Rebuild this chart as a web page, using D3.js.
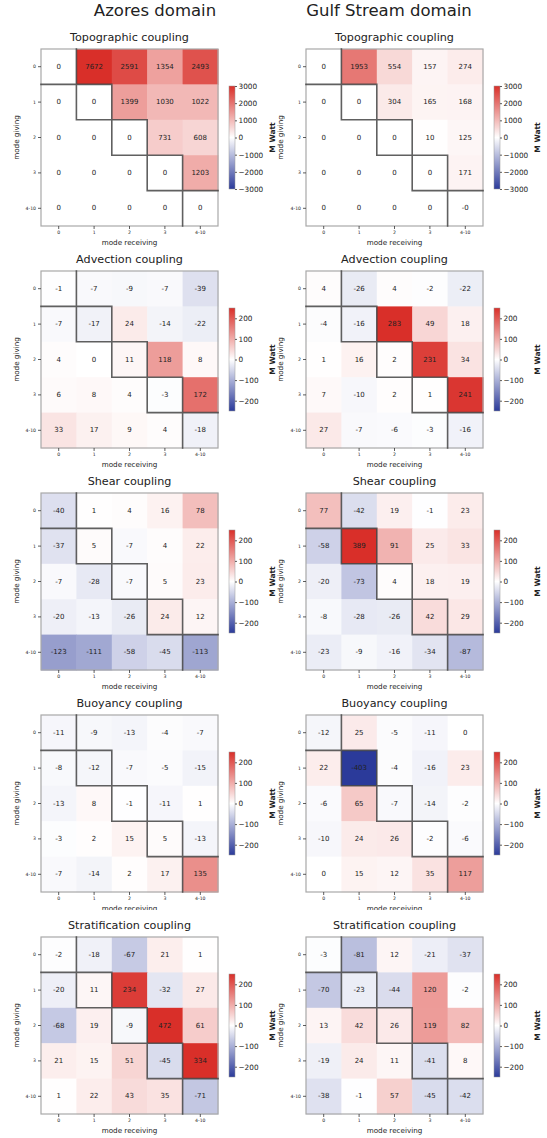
<!DOCTYPE html>
<html><head><meta charset="utf-8">
<script src="https://cdn.jsdelivr.net/npm/d3@7"></script>
<style>body{margin:0;background:#fff}svg{display:block}text{font-family:"DejaVu Sans",sans-serif;fill:#222}</style>
</head><body><div id="chart"></div>
<script>
const modes = ["0","1","2","3","4-10"];
const domains = ["Azores domain","Gulf Stream domain"];
const couplings = ["Topographic coupling","Advection coupling","Shear coupling","Buoyancy coupling","Stratification coupling"];
const colorLimits = [3000,250,250,250,250];
const cbTicksTopo = [-3000,-2000,-1000,0,1000,2000,3000];
const cbTicksOther = [-200,-100,0,100,200];

const azoresTopographic = [[0,7672,2591,1354,2493],[0,0,1399,1030,1022],[0,0,0,731,608],[0,0,0,0,1203],[0,0,0,0,0]];
const azoresAdvection = [[-1,-7,-9,-7,-39],[-7,-17,24,-14,-22],[4,0,11,118,8],[6,8,4,-3,172],[33,17,9,4,-18]];
const azoresShear = [[-40,1,4,16,78],[-37,5,-7,4,22],[-7,-28,-7,5,23],[-20,-13,-26,24,12],[-123,-111,-58,-45,-113]];
const azoresBuoyancy = [[-11,-9,-13,-4,-7],[-8,-12,-7,-5,-15],[-13,8,-1,-11,1],[-3,2,15,5,-13],[-7,-14,2,17,135]];
const azoresStratification = [[-2,-18,-67,21,1],[-20,11,234,-32,27],[-68,19,-9,472,61],[21,15,51,-45,334],[1,22,43,35,-71]];

const gulfTopographic = [[0,1953,554,157,274],[0,0,304,165,168],[0,0,0,10,125],[0,0,0,0,171],[0,0,0,0,-0.2]];
const gulfAdvection = [[4,-26,4,-2,-22],[-4,-16,283,49,18],[1,16,2,231,34],[7,-10,2,1,241],[27,-7,-6,-3,-16]];
const gulfShear = [[77,-42,19,-1,23],[-58,389,91,25,33],[-20,-73,4,18,19],[-8,-28,-26,42,29],[-23,-9,-16,-34,-87]];
const gulfBuoyancy = [[-12,25,-5,-11,0],[22,-403,-4,-16,23],[-6,65,-7,-14,-2],[-10,24,26,-2,-6],[0,15,12,35,117]];
const gulfStratification = [[-3,-81,12,-21,-37],[-70,-23,-44,120,-2],[13,42,26,119,82],[-19,24,11,-41,8],[-38,-1,57,-45,-42]];

const panels = [
  [azoresTopographic, gulfTopographic],
  [azoresAdvection, gulfAdvection],
  [azoresShear, gulfShear],
  [azoresBuoyancy, gulfBuoyancy],
  [azoresStratification, gulfStratification]
];

const W = 547, H = 1138;
const colX = [41, 306];
const colTitleX = [155, 389];
const rowTops = [49, 271, 493, 715, 937];
const S = 177;

const svg = d3.select("#chart").append("svg").attr("width", W).attr("height", H);
const defs = svg.append("defs");

const fmtCell = v => (v < 0 && Math.round(v) === 0) ? "-0" : String(Math.round(v));
const fmtTick = v => v < 0 ? "\u2212" + Math.abs(v) : String(v);

domains.forEach((d, c) => {
  svg.append("text").attr("x", colTitleX[c]).attr("y", 10).attr("text-anchor", "middle")
    .attr("dominant-baseline", "central").attr("font-size", 16.5).text(d);
});

panels.forEach((pair, r) => {
  const top = rowTops[r];
  const vmax = colorLimits[r];
  const color = d3.scaleLinear().domain([-vmax, 0, vmax]).range(["#2b3a9a", "#ffffff", "#d92f29"]).clamp(true);
  const cbTicks = r === 0 ? cbTicksTopo : cbTicksOther;

  if (r === 4) {
    svg.append("rect").attr("x", 0).attr("y", 910).attr("width", W).attr("height", H - 910).attr("fill", "#fff");
  }

  pair.forEach((mat, c) => {
    const x0 = colX[c];
    const g = svg.append("g").attr("transform", `translate(${x0},${top})`);
    const xs = d3.scaleBand().domain(modes).range([0, S]);
    const ys = d3.scaleBand().domain(modes).range([0, S]);
    const bw = xs.bandwidth();

    const cells = [];
    mat.forEach((row, i) => row.forEach((v, j) => cells.push({i, j, v})));

    g.selectAll("rect.cell").data(cells).join("rect").attr("class", "cell")
      .attr("x", d => xs(modes[d.j])).attr("y", d => ys(modes[d.i]))
      .attr("width", bw + 0.5).attr("height", bw + 0.5)
      .attr("fill", d => color(d.v));

    g.selectAll("text.val").data(cells).join("text").attr("class", "val")
      .attr("x", d => xs(modes[d.j]) + bw / 2)
      .attr("y", d => ys(modes[d.i]) + bw / 2)
      .attr("text-anchor", "middle").attr("dominant-baseline", "central")
      .attr("font-size", 7).text(d => fmtCell(d.v));

    // frame
    g.append("rect").attr("x", 0).attr("y", 0).attr("width", S).attr("height", S)
      .attr("fill", "none").attr("stroke", "#a8a8a8").attr("stroke-width", 1.2);

    // diagonal boxes (interior edges only)
    const p = d3.path();
    modes.forEach((m, i) => {
      const x = xs(m), y = ys(m);
      if (i > 0) { p.moveTo(x, y); p.lineTo(x + bw, y); p.moveTo(x, y); p.lineTo(x, y + bw); }
      if (i < modes.length - 1) { p.moveTo(x + bw, y); p.lineTo(x + bw, y + bw); p.moveTo(x, y + bw); p.lineTo(x + bw, y + bw); }
    });
    g.append("path").attr("d", p.toString()).attr("fill", "none").attr("stroke", "#444")
      .attr("stroke-opacity", 0.85).attr("stroke-width", 1.6).attr("stroke-linecap", "square");

    // axes
    const yAxis = g.append("g").call(d3.axisLeft(ys).tickSize(3).tickPadding(2));
    const xAxis = g.append("g").attr("transform", `translate(0,${S})`).call(d3.axisBottom(xs).tickSize(3).tickPadding(2));
    [yAxis, xAxis].forEach(a => {
      a.select(".domain").remove();
      a.selectAll(".tick line").attr("stroke", "#333").attr("stroke-width", 0.8);
      a.selectAll(".tick text").attr("font-size", 4.6).attr("font-family", "DejaVu Sans").attr("fill", "#222");
    });

    g.append("text").attr("x", S / 2).attr("y", S + 16).attr("text-anchor", "middle")
      .attr("dominant-baseline", "central").attr("font-size", 7.2).text("mode receiving");
    g.append("text").attr("transform", `translate(${c === 0 ? -25 : -26},${S / 2}) rotate(-90)`)
      .attr("text-anchor", "middle").attr("dominant-baseline", "central").attr("font-size", 7.2).text("mode giving");

    g.append("text").attr("x", S / 2).attr("y", -12).attr("text-anchor", "middle")
      .attr("dominant-baseline", "central").attr("font-size", 11.2).text(couplings[r]);

    // colorbar
    const cbX = S + 11, cbY = 37, cbW = 6, cbH = 103;
    const gid = `grad-${r}-${c}`;
    const grad = defs.append("linearGradient").attr("id", gid).attr("x1", 0).attr("y1", 1).attr("x2", 0).attr("y2", 0);
    d3.range(0, 1.0001, 0.05).forEach(t => {
      grad.append("stop").attr("offset", t).attr("stop-color", color(-vmax + 2 * vmax * t));
    });
    const cb = g.append("g").attr("transform", `translate(${cbX},${cbY})`);
    cb.append("rect").attr("width", cbW).attr("height", cbH).attr("fill", `url(#${gid})`)
      .attr("stroke", "#999").attr("stroke-width", 0.5);
    const cs = d3.scaleLinear().domain([-vmax, vmax]).range([cbH, 0]);
    const cAxis = cb.append("g").attr("transform", `translate(${cbW},0)`)
      .call(d3.axisRight(cs).tickValues(cbTicks).tickSize(2).tickPadding(1.5).tickFormat(fmtTick));
    cAxis.select(".domain").remove();
    cAxis.selectAll(".tick line").attr("stroke", "#333").attr("stroke-width", 0.8);
    cAxis.selectAll(".tick text").attr("font-size", 7.3).attr("font-family", "DejaVu Sans").attr("fill", "#222");

    cb.append("text").attr("transform", `translate(${cbW + 37},${cbH / 2}) rotate(-90)`)
      .attr("text-anchor", "middle").attr("dominant-baseline", "central")
      .attr("font-size", 7.5).attr("font-weight", "bold").text("M Watt");
  });
});
</script></body></html>
